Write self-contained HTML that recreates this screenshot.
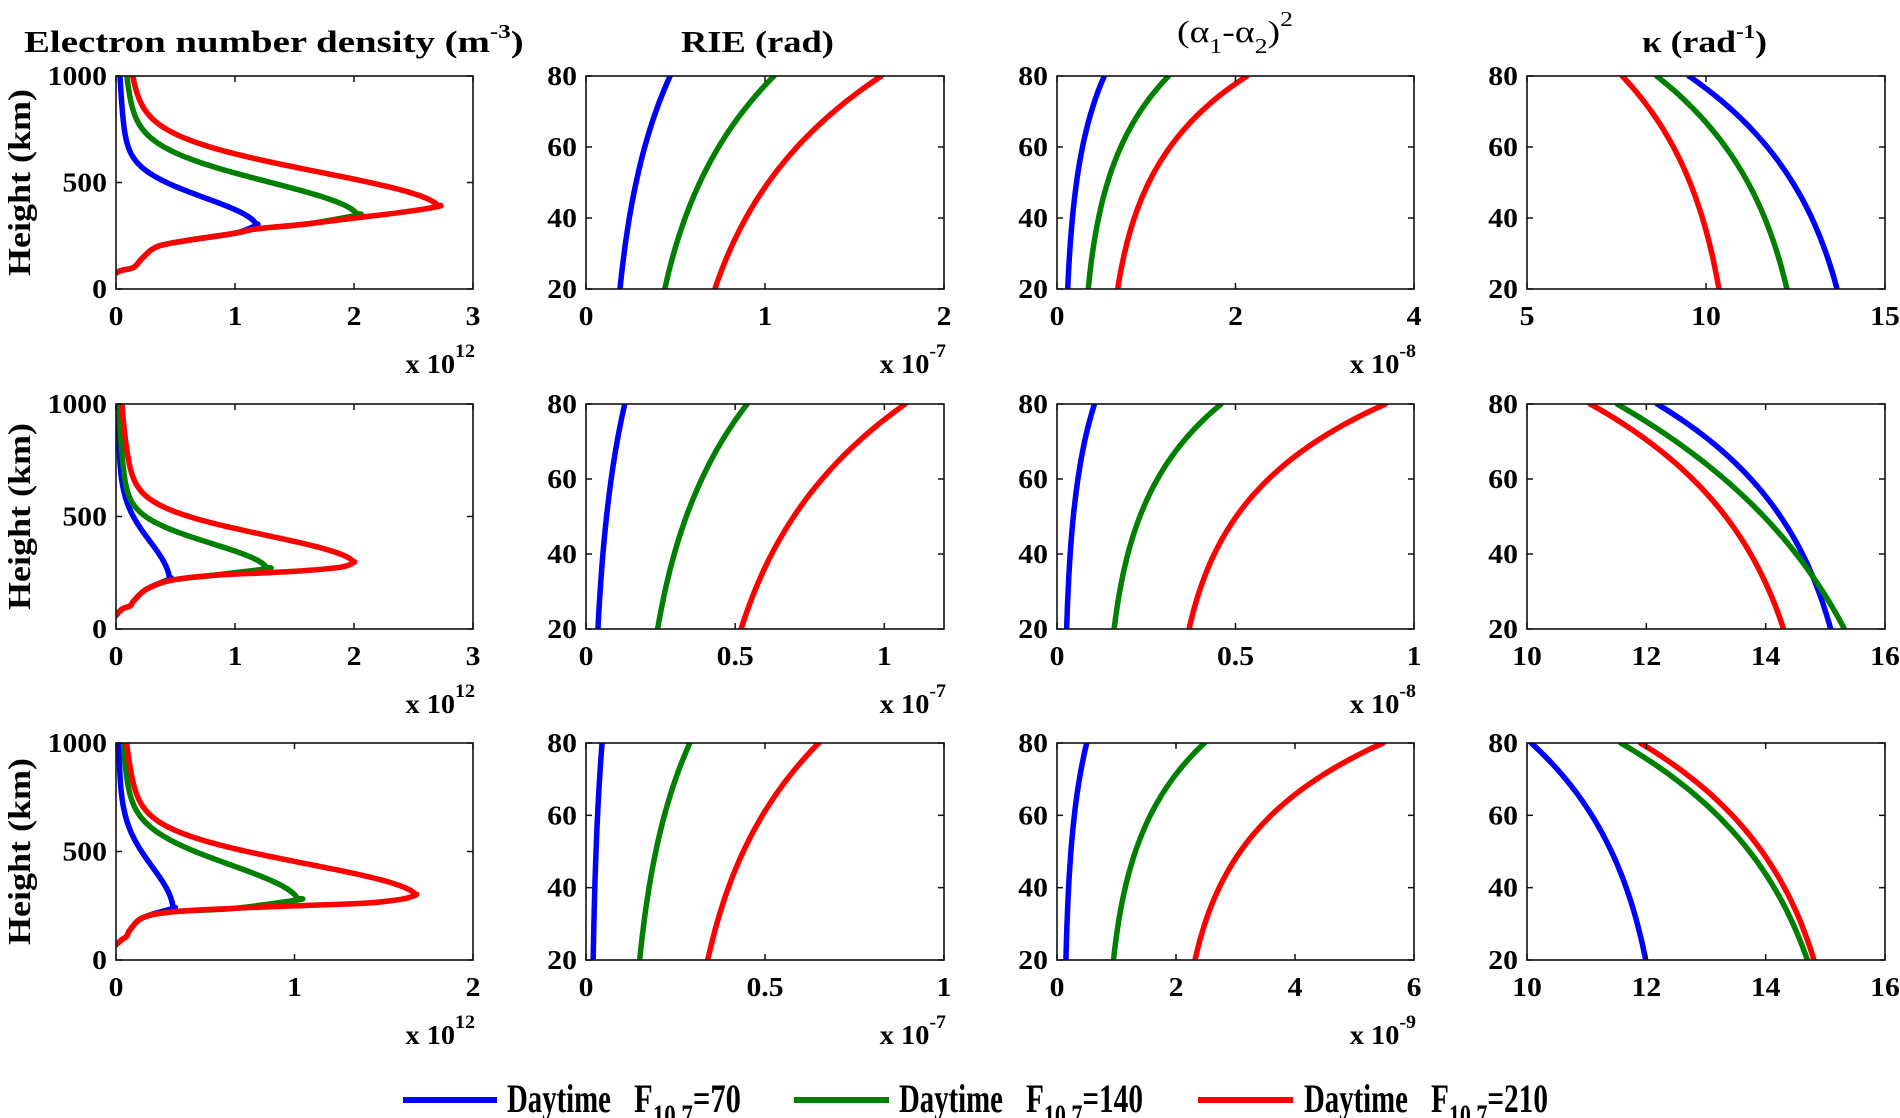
<!DOCTYPE html>
<html><head><meta charset="utf-8">
<style>
html,body{margin:0;padding:0;background:#fff;}
svg{display:block;font-family:"Liberation Serif","Times New Roman",serif;}
</style></head>
<body>
<svg id="s" xmlns="http://www.w3.org/2000/svg" width="1900" height="1118" viewBox="0 0 1900 1118">
<rect width="1900" height="1118" fill="#fff"/>
</svg>
<script>
const NS='http://www.w3.org/2000/svg';
const S=document.getElementById('s');
function el(tag,a,p){const e=document.createElementNS(NS,tag);for(const k in a)e.setAttribute(k,a[k]);(p||S).appendChild(e);return e;}
function label(html,x,y,o){
  o=o||{};
  const g=el('g',{});
  const t=el('text',{x:0,y:0,'font-size':o.size||26,'font-weight':o.weight||'bold','text-anchor':o.anchor||'start',fill:'#000'},g);
  t.innerHTML=html;
  let s=o.sx||1;
  if(o.w){const bw=t.getBBox().width;if(bw>0)s=o.w/bw;}
  g.setAttribute('transform','translate('+x+','+y+')'+(o.rot?' rotate('+o.rot+')':'')+' scale('+s+',1)');
  return g;
}
function smoothPath(P){
  if(P.length<3)return P.map((p,i)=>(i?'L':'M')+p[0].toFixed(1)+','+p[1].toFixed(1)).join('');
  let d='M'+P[0][0].toFixed(1)+','+P[0][1].toFixed(1);
  for(let i=0;i<P.length-1;i++){
    const p0=P[Math.max(0,i-1)],p1=P[i],p2=P[i+1],p3=P[Math.min(P.length-1,i+2)];
    const c1=[p1[0]+(p2[0]-p0[0])/6,p1[1]+(p2[1]-p0[1])/6];
    const c2=[p2[0]-(p3[0]-p1[0])/6,p2[1]-(p3[1]-p1[1])/6];
    d+='C'+c1[0].toFixed(1)+','+c1[1].toFixed(1)+' '+c2[0].toFixed(1)+','+c2[1].toFixed(1)+' '+p2[0].toFixed(1)+','+p2[1].toFixed(1);
  }
  return d;
}
const COLS=[[116,473],[586,944],[1057,1414],[1527,1885]];
const ROWS=[[76,289],[404,629],[743,960]];
const BL='#0000ff',GR='#008000',RD='#ff0000';
let clipId=0;
function panel(c,r,xr,xt,yr,yt,exp,curves){
  const [x0,x1]=COLS[c],[y0,y1]=ROWS[r];
  const X=v=>x0+(v-xr[0])/(xr[1]-xr[0])*(x1-x0);
  const Y=v=>y1-(v-yr[0])/(yr[1]-yr[0])*(y1-y0);
  const id='c'+(clipId++);
  const cp=el('clipPath',{id:id});el('rect',{x:x0,y:y0,width:x1-x0,height:y1-y0},cp);
  const g=el('g',{'clip-path':'url(#'+id+')'});
  curves.forEach(cv=>{
    const P=cv.pts.map(p=>[X(p[0]),Y(p[1])]);
    el('path',{d:smoothPath(P),fill:'none',stroke:cv.col,'stroke-width':5.5,'stroke-linejoin':'round','stroke-linecap':'round'},g);
  });
  el('rect',{x:x0,y:y0,width:x1-x0,height:y1-y0,fill:'none',stroke:'#111','stroke-width':1.6});
  xt.forEach(v=>{const x=X(v);
    el('line',{x1:x,x2:x,y1:y1,y2:y1-6,stroke:'#111','stroke-width':1.5});
    el('line',{x1:x,x2:x,y1:y0,y2:y0+6,stroke:'#111','stroke-width':1.5});
    label(String(v),x,y1+36,{anchor:'middle',sx:1.1,size:27});
  });
  yt.forEach(v=>{const y=Y(v);
    el('line',{x1:x0,x2:x0+6,y1:y,y2:y,stroke:'#111','stroke-width':1.5});
    el('line',{x1:x1,x2:x1-6,y1:y,y2:y,stroke:'#111','stroke-width':1.5});
    label(String(v),x0-9,y+9,{anchor:'end',sx:1.1,size:27});
  });
  if(exp){
    label('x 10<tspan dy="-16" font-size="19">'+exp+'</tspan>',x1+2,y1+84,{anchor:'end',sx:1.05,size:27});
  }
}
function Tf(d){return 0.8*Math.exp(-Math.pow(d/230,2))+0.2*Math.exp(-d/450);}
function dens(bottom,Nm,hm,s){
  const pts=[];
  bottom.forEach(p=>{if(p[0]<Nm-0.04&&p[1]<hm-4)pts.push(p);});
  pts.push([Nm,hm]);
  for(let d=6;d<=1012-hm;d+=6){pts.push([Nm*Tf(d/s),hm+d]);}
  return pts;
}
function expc(a,b,k){const pts=[];for(let h=20;h<=80.01;h+=2){const t=(h-20)/60;const g=(Math.exp(k*t)-1)/(Math.exp(k)-1);pts.push([a+(b-a)*g,h]);}return pts;}

const B1=[[0,75],[0.05,88],[0.15,102],[0.23,150],[0.35,200],[0.6,228],[1.0,262],[1.18,282],[1.6,305],[2.0,333],[2.4,360],[2.7,383]];
panel(0,0,[0,3],[0,1,2,3],[0,1000],[0,500,1000],'12',[
 {col:BL,pts:dens(B1,1.18,300,0.8)},{col:GR,pts:dens(B1,2.03,347,0.97)},{col:RD,pts:dens(B1,2.71,388,1.0)}]);
const B2=[[0,60],[0.05,88],[0.12,103],[0.15,125],[0.25,175],[0.45,215],[0.8,238],[1.27,250],[1.6,260],[1.9,276],[2.0,296]];
panel(0,1,[0,3],[0,1,2,3],[0,1000],[0,500,1000],'12',[
 {col:BL,pts:dens(B2,0.45,222,1.05)},{col:GR,pts:dens(B2,1.27,268,0.7)},{col:RD,pts:dens(B2,2.0,296,0.75)}]);
const B3=[[0,70],[0.03,92],[0.06,110],[0.08,140],[0.15,195],[0.32,222],[0.66,238],[1.02,250],[1.4,262],[1.6,280],[1.68,298]];
panel(0,2,[0,2],[0,1,2],[0,1000],[0,500,1000],'12',[
 {col:BL,pts:dens(B3,0.32,238,1.2)},{col:GR,pts:dens(B3,1.02,277,1.0)},{col:RD,pts:dens(B3,1.68,300,0.9)}]);
const Y4=[20,40,60,80];
panel(1,0,[0,2],[0,1,2],[20,80],Y4,'-7',[
 {col:BL,pts:expc(0.19,0.47,1.5)},{col:GR,pts:expc(0.44,1.05,1.5)},{col:RD,pts:expc(0.72,1.65,1.5)}]);
panel(1,1,[0,1.2],[0,0.5,1],[20,80],Y4,'-7',[
 {col:BL,pts:expc(0.04,0.13,1.5)},{col:GR,pts:expc(0.24,0.54,1.5)},{col:RD,pts:expc(0.52,1.07,1.5)}]);
panel(1,2,[0,1],[0,0.5,1],[20,80],Y4,'-7',[
 {col:BL,pts:expc(0.02,0.045,1.5)},{col:GR,pts:expc(0.15,0.29,1.5)},{col:RD,pts:expc(0.34,0.65,1.5)}]);
panel(2,0,[0,4],[0,2,4],[20,80],Y4,'-8',[
 {col:BL,pts:expc(0.12,0.53,2.3)},{col:GR,pts:expc(0.35,1.25,2.3)},{col:RD,pts:expc(0.68,2.13,2.3)}]);
panel(2,1,[0,1],[0,0.5,1],[20,80],Y4,'-8',[
 {col:BL,pts:expc(0.027,0.105,2.3)},{col:GR,pts:expc(0.16,0.46,2.3)},{col:RD,pts:expc(0.37,0.92,2.3)}]);
panel(2,2,[0,6],[0,2,4,6],[20,80],Y4,'-9',[
 {col:BL,pts:expc(0.15,0.5,2.3)},{col:GR,pts:expc(0.95,2.48,2.3)},{col:RD,pts:expc(2.32,5.48,2.3)}]);
panel(3,0,[5,15],[5,10,15],[20,80],Y4,null,[
 {col:BL,pts:expc(13.66,9.52,1.7)},{col:GR,pts:expc(12.26,8.62,1.7)},{col:RD,pts:expc(10.36,7.66,1.7)}]);
panel(3,1,[10,16],[10,12,14,16],[20,80],Y4,null,[
 {col:BL,pts:expc(15.09,12.18,1.8)},{col:GR,pts:expc(15.32,11.51,1.2)},{col:RD,pts:expc(14.3,11.06,1.7)}]);
panel(3,2,[10,16],[10,12,14,16],[20,80],Y4,null,[
 {col:BL,pts:expc(11.99,10.07,1.7)},{col:GR,pts:expc(14.7,11.57,1.6)},{col:RD,pts:expc(14.81,11.9,1.7)}]);

label('Electron number density (m<tspan dy="-14" font-size="20">-3</tspan><tspan dy="14">)</tspan>',24,52,{size:31,w:500});
label('RIE (rad)',681,52,{size:31,w:153});
label('(α<tspan dy="11" font-size="21">1</tspan><tspan dy="-11">-α</tspan><tspan dy="11" font-size="21">2</tspan><tspan dy="-11">)</tspan><tspan dy="-16" font-size="21">2</tspan>',1177,42,{size:31,weight:'normal',w:116});
label('κ (rad<tspan dy="-14" font-size="20">-1</tspan><tspan dy="14">)</tspan>',1642,52,{size:31,w:125});
ROWS.forEach(r=>{label('Height (km)',30,(r[0]+r[1])/2,{size:32,anchor:'middle',rot:-90,w:187});});
const LG=[[403,497,507,634,BL,'70'],[794,889,899,1026,GR,'140'],[1198,1293,1304,1431,RD,'210']];
LG.forEach(L=>{
  el('line',{x1:L[0],x2:L[1],y1:1100,y2:1100,stroke:L[4],'stroke-width':6});
  label('Daytime',L[2],1112,{size:40,w:104});
  label('F<tspan dy="13" font-size="30">10.7</tspan><tspan dy="-13">='+L[5]+'</tspan>',L[3],1112,{size:40,w:L[5].length==2?107:117});
});
</script>
</body></html>
